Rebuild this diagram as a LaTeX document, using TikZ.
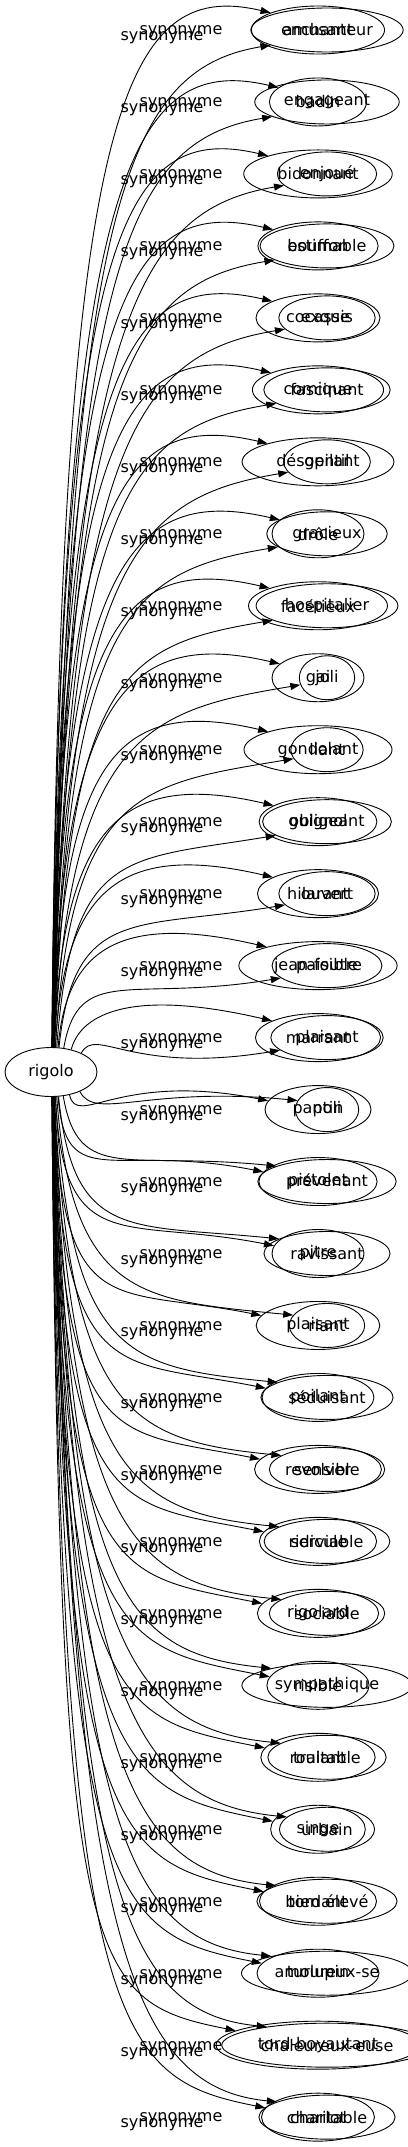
\documentclass[tikz,border=0pt]{standalone}
\usepackage{fontspec}
\setmainfont{DejaVu Sans}
\usetikzlibrary{shapes.geometric,arrows.meta}

\begin{document}
\begin{tikzpicture}[
    x=1pt, y=1pt,
    every node/.style={font=\fontsize{16}{19}\selectfont},
    headNode/.style={ellipse, draw, line width=0.9pt, minimum width=92pt, minimum height=49pt},
    synNodeA/.style={ellipse, draw, line width=0.9pt, inner xsep=12pt, minimum width=92pt, minimum height=48pt},
    synNodeB/.style={ellipse, draw, line width=0.9pt, inner xsep=8pt, minimum width=54pt, minimum height=44pt},
    synLabel/.style={inner sep=0pt},
    synEdge/.style={-{Triangle[length=10pt, width=7pt]}, line width=0.9pt}
]
\useasboundingbox (0,0) rectangle (407,-2147);

% Nodes
\node (rigolo) [headNode] at (51,-1072) {rigolo};
\foreach \i/\wa/\wb in {1/amusant/enchanteur, 2/badin/engageant, 3/bidonnant/enjoué,
    4/bouffon/estimable, 5/cocasse/exquis, 6/comique/fascinant, 7/désopilant/gentil,
    8/drôle/gracieux, 9/facétieux/hospitalier, 10/gai/joli, 11/gondolant/liant,
    12/guignol/obligeant, 13/hilarant/ouvert, 14/jean-foutre/paisible, 15/marrant/plaisant,
    16/pantin/poli, 17/pistolet/prévenant, 18/pitre/ravissant, 19/plaisant/riant,
    20/poilant/séduisant, 21/revolver/sensible, 22/ridicule/serviable, 23/rigolard/sociable,
    24/risible/sympathique, 25/roulant/traitable, 26/singe/urbain, 27/tordant/bien élevé,
    28/turlupin/amoureux-se, 29/tord-boyautant/chaleureux-euse, 30/charlot/charitable} {
  \pgfmathsetmacro{\yy}{-30-(\i-1)*71.97}
  \node (a\i) [synNodeA] at (318,\yy) {\wa};
  \node (b\i) [synNodeB] at (327,\yy) {\wb};
}

% Connectors
\foreach \i in {1,...,30} {
  \pgfmathsetmacro{\yy}{-30-(\i-1)*71.97}
  \pgfmathsetmacro{\dy}{\yy+1072}
  \pgfmathtruncatemacro{\angA}{atan2(\dy,30)}
  \pgfmathtruncatemacro{\angB}{atan2(\dy,55)}
  \pgfmathsetmacro{\oay}{0.9*\dy}
  \pgfmathsetmacro{\oby}{0.8*\dy}
  \pgfmathtruncatemacro{\inA}{\dy>0 ? 160 : 170}
  \pgfmathtruncatemacro{\inB}{\dy>0 ? 195 : 163}
  \pgfmathsetmacro{\iay}{\dy>0 ? 35 : 30}
  \pgfmathsetmacro{\iby}{\dy>0 ? -25 : 15}
  \node (la\i) [synLabel] at (162,\yy-8) {synonyme};
  \node (lb\i) [synLabel] at (181,\yy-2) {synonyme};
  \draw [synEdge] (rigolo.\angA) .. controls +(8,\oay) and +(-150,\iay) .. (a\i.\inA);
  \draw [synEdge] (rigolo.\angB) .. controls +(15,\oby) and +(-150,\iby) .. (b\i.\inB);
}

\end{tikzpicture}
\end{document}
